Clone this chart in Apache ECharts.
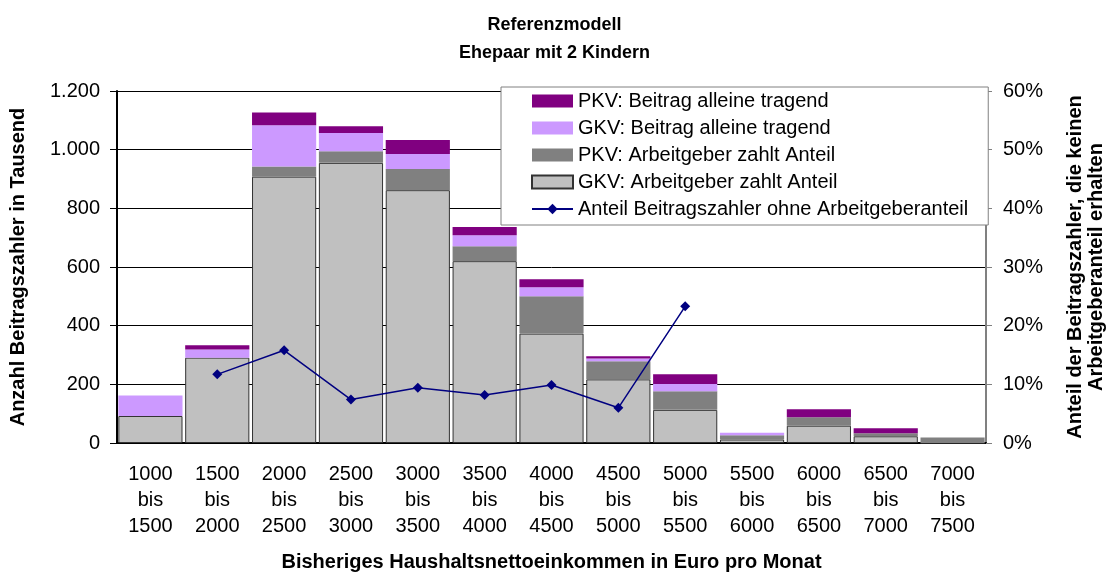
<!DOCTYPE html>
<html>
<head>
<meta charset="utf-8">
<script src="https://cdn.jsdelivr.net/npm/echarts@6/dist/echarts.min.js"></script>
<style>html,body{margin:0;padding:0;background:#fff}#c{width:1109px;height:576px}</style>
</head>
<body>
<div id="c"></div>
<script>
const categories = ['1000\nbis\n1500','1500\nbis\n2000','2000\nbis\n2500','2500\nbis\n3000','3000\nbis\n3500','3500\nbis\n4000','4000\nbis\n4500','4500\nbis\n5000','5000\nbis\n5500','5500\nbis\n6000','6000\nbis\n6500','6500\nbis\n7000','7000\nbis\n7500'];
const gkvArbeitgeber = [92, 291, 908, 955, 862, 620, 373, 217, 113, 12, 59, 23, 0];
const pkvArbeitgeber = [0, 0, 35, 40, 72, 51, 127, 62, 63, 14, 29, 10, 19];
const gkvAllein = [70, 28, 140, 62, 51, 37, 31, 9, 25, 9, 0, 0, 0];
const pkvAllein = [0, 14, 44, 23, 48, 28, 27, 8, 33, 0, 27, 17, 0];
const anteilOhneArbeitgeber = [null, 11.7, 15.8, 7.4, 9.4, 8.2, 9.9, 6.0, 23.3, null, null, null, null];
const leftTicks = [0, 200, 400, 600, 800, 1000, 1200];
const rightTicks = [0, 10, 20, 30, 40, 50, 60];

const font = '"Liberation Sans", Arial, sans-serif';
const chart = echarts.init(document.getElementById('c'), null, {renderer: 'canvas'});
const fmtDE = v => String(v).replace(/\B(?=(\d{3})+(?!\d))/g, '.');
chart.setOption({
  animation: false,
  backgroundColor: '#fff',
  textStyle: {fontFamily: font},
  title: {
    text: 'Referenzmodell\nEhepaar mit 2 Kindern',
    left: 'center', top: 6,
    textStyle: {fontFamily: font, fontSize: 18, fontWeight: 'bold', color: '#000', lineHeight: 28}
  },
  legend: {
    orient: 'vertical', left: 501, top: 87,
    padding: [4, 20, 6, 30],
    itemGap: 7, itemWidth: 41, itemHeight: 13,
    backgroundColor: '#fff', borderColor: '#808080', borderWidth: 1,
    textStyle: {fontFamily: font, fontSize: 20, color: '#000', lineHeight: 20},
    data: [
      {name: 'PKV: Beitrag alleine tragend', icon: 'rect'},
      {name: 'GKV: Beitrag alleine tragend', icon: 'rect'},
      {name: 'PKV: Arbeitgeber zahlt Anteil', icon: 'rect'},
      {name: 'GKV: Arbeitgeber zahlt Anteil', icon: 'rect'},
      {name: 'Anteil Beitragszahler ohne Arbeitgeberanteil'}
    ]
  },
  grid: {left: 117, right: 123, top: 91, bottom: 133, containLabel: false, outerBoundsMode: 'none'},
  xAxis: {
    type: 'category', data: categories,
    name: 'Bisheriges Haushaltsnettoeinkommen in Euro pro Monat',
    nameLocation: 'middle', nameGap: 109,
    nameTextStyle: {fontFamily: font, fontSize: 20, fontWeight: 'bold', color: '#000'},
    axisLine: {lineStyle: {color: '#000', width: 2}},
    axisTick: {length: 6, lineStyle: {color: '#000', width: 2}},
    axisLabel: {fontFamily: font, fontSize: 20, color: '#000', lineHeight: 26.3, margin: 18, interval: 0}
  },
  yAxis: [{
    type: 'value', min: 0, max: 1200, interval: 200,
    name: 'Anzahl Beitragszahler in Tausend',
    nameLocation: 'middle', nameGap: 89,
    nameTextStyle: {fontFamily: font, fontSize: 20, fontWeight: 'bold', color: '#000'},
    axisLine: {show: true, lineStyle: {color: '#000', width: 2}},
    axisTick: {show: true, length: 7, lineStyle: {color: '#000'}},
    axisLabel: {fontFamily: font, fontSize: 20, color: '#000', margin: 17, formatter: v => fmtDE(v)},
    splitLine: {show: true, lineStyle: {color: '#000', width: 1}}
  }, {
    type: 'value', min: 0, max: 60, interval: 10,
    name: 'Anteil der Beitragszahler, die keinen\nArbeitgeberanteil erhalten',
    nameLocation: 'middle', nameGap: 79,
    nameTextStyle: {fontFamily: font, fontSize: 20, fontWeight: 'bold', color: '#000', lineHeight: 21},
    axisLine: {show: true, lineStyle: {color: '#808080', width: 2}},
    axisTick: {show: true, length: 6, lineStyle: {color: '#808080'}},
    axisLabel: {fontFamily: font, fontSize: 20, color: '#000', margin: 17, formatter: '{value}%'},
    splitLine: {show: false}
  }],
  series: [
    {name: 'GKV: Arbeitgeber zahlt Anteil', type: 'bar', stack: 'a', data: gkvArbeitgeber, barWidth: '96%',
     itemStyle: {color: '#C0C0C0', borderColor: '#333', borderWidth: 1}},
    {name: 'PKV: Arbeitgeber zahlt Anteil', type: 'bar', stack: 'a', data: pkvArbeitgeber,
     itemStyle: {color: '#808080'}},
    {name: 'GKV: Beitrag alleine tragend', type: 'bar', stack: 'a', data: gkvAllein,
     itemStyle: {color: '#CC99FF'}},
    {name: 'PKV: Beitrag alleine tragend', type: 'bar', stack: 'a', data: pkvAllein,
     itemStyle: {color: '#800080'}},
    {name: 'Anteil Beitragszahler ohne Arbeitgeberanteil', type: 'line', yAxisIndex: 1, data: anteilOhneArbeitgeber,
     symbol: 'diamond', symbolSize: 10, connectNulls: false, z: 5,
     lineStyle: {color: '#000080', width: 1.5}, itemStyle: {color: '#000080'}}
  ]
});
</script>
</body>
</html>
